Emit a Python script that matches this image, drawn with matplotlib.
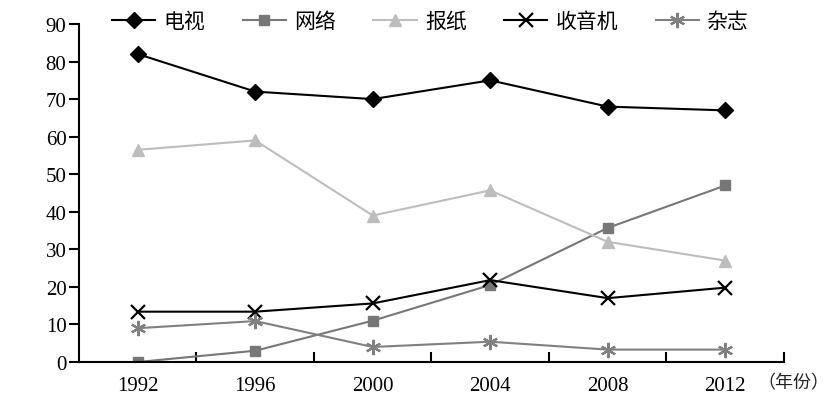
import matplotlib
matplotlib.use("Agg")
import matplotlib.pyplot as plt

years = ["1992", "1996", "2000", "2004", "2008", "2012"]
tv = [82, 72, 70, 75, 68, 67]
internet = [0, 3, 11, 20.5, 35.7, 47]
newspaper = [56.5, 59, 39, 45.7, 32, 27]
radio = [13.4, 13.4, 15.6, 21.8, 17, 19.8]
magazine = [9, 10.9, 4, 5.4, 3.3, 3.3]
series_names = ["电视", "网络", "报纸", "收音机", "杂志"]

plt.rcParams['font.family'] = ['Liberation Serif', 'Noto Sans CJK SC']

fig = plt.figure(figsize=(8.37, 4.06), dpi=100)
ax = fig.add_axes([79/837, 43/406, (784-79)/837, (363-25)/406])

x = list(range(len(years)))
ast = (6, 2, 0)
ax.plot(x, tv, color='black', lw=1.5, marker='D', ms=8, mfc='black', mec='black', label=series_names[0])
ax.plot(x, internet, color='#777777', lw=1.5, marker='s', ms=7, mfc='#777777', mec='#777777', label=series_names[1])
ax.plot(x, newspaper, color='#bdbdbd', lw=1.5, marker='^', ms=8, mfc='#bdbdbd', mec='#bdbdbd', label=series_names[2])
ax.plot(x, radio, color='black', lw=1.5, marker='x', ms=10, mew=1.6, label=series_names[3])
ax.plot(x, magazine, color='#808080', lw=1.5, marker=ast, ms=11, mew=1.6, label=series_names[4])

ax.set_xlim(-0.5, len(years) - 0.5)
ax.set_ylim(0, 90)
ax.set_yticks(range(0, 91, 10))
ax.set_xticks(x)
ax.set_xticklabels(years)
ax.set_xticks([i + 0.5 for i in x], minor=True)
ax.tick_params(axis='x', which='major', length=0, labelsize=15, pad=10)
ax.tick_params(axis='x', which='minor', direction='in', length=7, width=1.5)
ax.tick_params(axis='y', direction='out', length=7, width=1.5, labelsize=15, pad=2)
for s in ['top', 'right']:
    ax.spines[s].set_visible(False)
for s in ['left', 'bottom']:
    ax.spines[s].set_linewidth(1.5)

fig.text(757/837, 1 - 383/406, "（年份）", fontsize=13,
         family=['Noto Sans CJK SC'], ha='left', va='center', color='#222222')

leg = ax.legend(loc='center left', bbox_to_anchor=(33/705, 1.009), ncol=5, frameon=False,
                handlelength=2.07, columnspacing=1.8, handletextpad=0.4, borderpad=0,
                borderaxespad=0,
                prop={'family': ['Noto Sans CJK SC'], 'size': 15})

fig.savefig("out.png", dpi=100, facecolor='white')
